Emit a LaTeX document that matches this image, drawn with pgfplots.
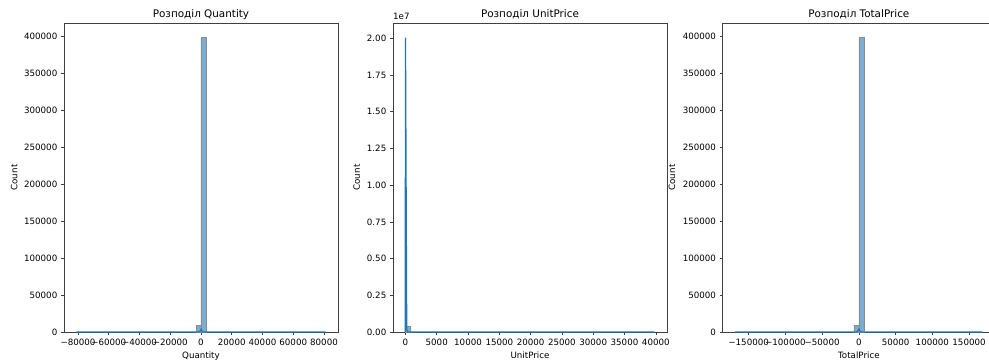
\documentclass[border=0pt]{standalone}
\usepackage{fontspec}
\setmainfont{DejaVu Sans}
\usepackage{pgfplots}
\pgfplotsset{compat=1.18}
\definecolor{sbblue}{HTML}{1F77B4}
\newcommand\tfont{\fontsize{10.4bp}{12bp}\selectfont}
\newcommand\kfont{\fontsize{8.7bp}{10bp}\selectfont}
\pgfplotsset{
  hist/.style={
    scale only axis, width=274bp, height=309bp,
    axis line style={black!75, line width=0.7bp},
    tick align=outside, major tick length=3bp,
    tick style={black!75, line width=0.6bp},
    xtick pos=bottom, ytick pos=left,
    ticklabel style={font=\kfont},
    label style={font=\kfont},
    title style={font=\tfont, at={(0.5,1)}, anchor=base, yshift=-0.5bp},
    xlabel style={at={(axis description cs:0.5,0)}, anchor=base, yshift=-26.5bp},
    ylabel style={anchor=center},
    xticklabel style={anchor=north, inner sep=0pt, yshift=-4bp},
    yticklabel style={anchor=east, inner sep=0pt, xshift=-3.5bp},
    ymin=0,
    scaled ticks=false,
    /pgf/number format/assume math mode=true,
    clip=false,
    minor tick num=0,
  },
  bars/.style={ybar interval, fill=sbblue, fill opacity=0.6, draw=black!45, line width=0.5bp},
  kde/.style={sbblue, line width=1.3bp, mark=none},
}
\begin{document}
\begin{tikzpicture}
% ---------------- Quantity ----------------
\begin{axis}[hist, at={(64bp,31bp)}, anchor=south west,
  title={Розподіл Quantity}, xlabel={Quantity}, ylabel={Count},
  ylabel style={at={(axis description cs:-0.182,0.5)}},
  xmin=-89095, xmax=89095, ymax=417800,
  xtick={-80000,-60000,-40000,-20000,0,20000,40000,60000,80000},
  xticklabels={−80000,−60000,−40000,−20000,0,20000,40000,60000,80000},
  ytick={0,50000,100000,150000,200000,250000,300000,350000,400000},
  yticklabels={0,50000,100000,150000,200000,250000,300000,350000,400000},
]
\addplot[bars] coordinates {(-3239.8,8905) (0,397920) (3239.8,0)};
\addplot[kde] coordinates {(-80995,0) (-1628,0) (-814,600) (0,3500) (814,600) (1628,0) (80995,0)};
\end{axis}
% ---------------- UnitPrice ----------------
\begin{axis}[hist, at={(393bp,31bp)}, anchor=south west,
  title={Розподіл UnitPrice}, xlabel={UnitPrice}, ylabel={Count},
  ylabel style={at={(axis description cs:-0.1325,0.5)}},
  xmin=-1990, xmax=41790, ymax=21040000,
  xtick={0,5000,10000,15000,20000,25000,30000,35000,40000},
  xticklabels={0,5000,10000,15000,20000,25000,30000,35000,40000},
  ytick={0,2500000,5000000,7500000,10000000,12500000,15000000,17500000,20000000},
  yticklabels={0.00,0.25,0.50,0.75,1.00,1.25,1.50,1.75,2.00},
]
\addplot[bars] coordinates {(0,404000) (796,0)};
\addplot[kde] coordinates {(-20,0) (0,20040000) (200,150000) (400,0) (39800,0)};
\node[anchor=base west, font=\kfont, inner sep=0pt] at (rel axis cs:0,1) [yshift=3bp] {1e7};
\end{axis}
% ---------------- TotalPrice ----------------
\begin{axis}[hist, at={(722.7bp,31bp)}, anchor=south west,
  width=272.3bp,
  title={Розподіл TotalPrice}, xlabel={TotalPrice}, ylabel={Count},
  ylabel style={at={(axis description cs:-0.186,0.5)}},
  xmin=-185317, xmax=185317, ymax=417900,
  xtick={-150000,-100000,-50000,0,50000,100000,150000},
  xticklabels={−150000,−100000,−50000,0,50000,100000,150000},
  ytick={0,50000,100000,150000,200000,250000,300000,350000,400000},
  yticklabels={0,50000,100000,150000,200000,250000,300000,350000,400000},
]
\addplot[bars] coordinates {(-6738.8,8900) (0,398000) (6738.8,0)};
\addplot[kde] coordinates {(-168470,0) (-3386,0) (-1693,800) (0,4000) (1693,800) (3386,0) (168470,0)};
\end{axis}
\pgfresetboundingbox
\useasboundingbox (0,0) rectangle (989bp,363bp);
\end{tikzpicture}
\end{document}
